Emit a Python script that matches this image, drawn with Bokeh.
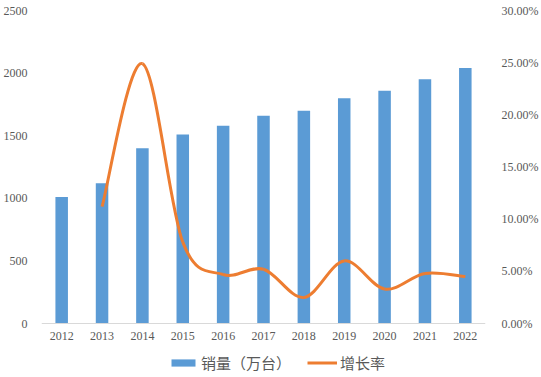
from bokeh.plotting import figure
from bokeh.models import (Range1d, LinearAxis, Legend, LegendItem, FixedTicker,
                          PrintfTickFormatter, Span)
from bokeh.core.properties import value
from bokeh.embed import file_html
from bokeh.resources import INLINE

years = ["2012", "2013", "2014", "2015", "2016", "2017", "2018", "2019", "2020", "2021", "2022"]
sales = [1010, 1120, 1400, 1510, 1580, 1660, 1700, 1800, 1860, 1950, 2040]
growth_years = ["2013", "2014", "2015", "2016", "2017", "2018", "2019", "2020", "2021", "2022"]
growth = [11.2, 24.9, 7.8, 4.7, 5.2, 2.5, 6.0, 3.3, 4.8, 4.5]  # percent
left_ticks = [0, 500, 1000, 1500, 2000, 2500]
right_ticks = [0, 5, 10, 15, 20, 25, 30]

BLUE = "#5B9BD5"
ORANGE = "#ED7D31"
TXT = "#595959"
SERIF = "Liberation Serif"

# layout: plot frame spans down to the page bottom; the value 0 sits 54 px above it
W, H = 541, 377
TOP, BOTTOM_PAD = 10, 54
axis_px = H - TOP - BOTTOM_PAD
left_max, pct_max = 2500, 30
left_min = -left_max * BOTTOM_PAD / axis_px
pct_min = -pct_max * BOTTOM_PAD / axis_px

pos = {y: i + 0.5 for i, y in enumerate(years)}
bx = [pos[y] for y in years]
gx = [pos[y] for y in growth_years]

p = figure(width=W, height=H, output_backend="svg", toolbar_location=None,
           x_range=Range1d(0, len(years)), y_range=Range1d(left_min, left_max),
           x_axis_location=None,
           min_border_left=38, min_border_right=48, min_border_top=TOP,
           min_border_bottom=0)
p.outline_line_color = None
p.xgrid.visible = False
p.ygrid.visible = False
p.background_fill_color = "white"
p.border_fill_color = "white"

p.extra_y_ranges = {"pct": Range1d(pct_min, pct_max)}

bars = p.vbar(x=bx, top=sales, width=0.31, fill_color=BLUE, line_color=None)

# category axis line and labels
p.add_layout(Span(location=0, dimension="width", line_color="#D9D9D9", line_width=1))
p.text(x=bx, y=[0] * len(bx), text=years, y_offset=8, text_align="center",
       text_baseline="top", text_font=value(SERIF), text_font_size="12px",
       text_color=TXT)

# smoothed line (Catmull-Rom -> cubic Bezier segments through the data points)
n = len(gx)
x0, y0, x1, y1, cx0, cy0, cx1, cy1 = [], [], [], [], [], [], [], []
for i in range(n - 1):
    pxm, pym = (gx[i - 1], growth[i - 1]) if i > 0 else (gx[i], growth[i])
    pxa, pya = gx[i], growth[i]
    pxb, pyb = gx[i + 1], growth[i + 1]
    pxp, pyp = (gx[i + 2], growth[i + 2]) if i + 2 < n else (gx[i + 1], growth[i + 1])
    x0.append(pxa); y0.append(pya); x1.append(pxb); y1.append(pyb)
    cx0.append(pxa + (pxb - pxm) / 6.0); cy0.append(pya + (pyb - pym) / 6.0)
    cx1.append(pxb - (pxp - pxa) / 6.0); cy1.append(pyb - (pyp - pya) / 6.0)
line = p.bezier(x0=x0, y0=y0, x1=x1, y1=y1, cx0=cx0, cy0=cy0, cx1=cx1, cy1=cy1,
                line_color=ORANGE, line_width=3, y_range_name="pct")

ya = p.yaxis[0]
ya.ticker = FixedTicker(ticks=left_ticks)
ya.axis_line_color = None
ya.major_tick_line_color = None
ya.minor_tick_line_color = None
ya.major_label_text_font = SERIF
ya.major_label_text_font_size = "12px"
ya.major_label_text_color = TXT
ya.major_label_standoff = 8

ra = LinearAxis(y_range_name="pct", ticker=FixedTicker(ticks=right_ticks),
                formatter=PrintfTickFormatter(format="%.2f%%"))
ra.axis_line_color = None
ra.major_tick_line_color = None
ra.minor_tick_line_color = None
ra.major_label_text_font = SERIF
ra.major_label_text_font_size = "12px"
ra.major_label_text_color = TXT
ra.major_label_standoff = 10
p.add_layout(ra, "right")

legend = Legend(items=[LegendItem(label="销量（万台）", renderers=[bars]),
                       LegendItem(label="增长率", renderers=[line])],
                orientation="horizontal", location=(127, 4),
                border_line_color=None, background_fill_alpha=0,
                label_text_font="Noto Sans CJK SC", label_text_font_size="15px",
                label_text_color=TXT, glyph_width=30, glyph_height=9,
                label_standoff=3, spacing=16, padding=0, margin=0,
                label_height=16)
p.add_layout(legend, "center")

with open("out.html", "w") as f:
    f.write(file_html(p, INLINE))
